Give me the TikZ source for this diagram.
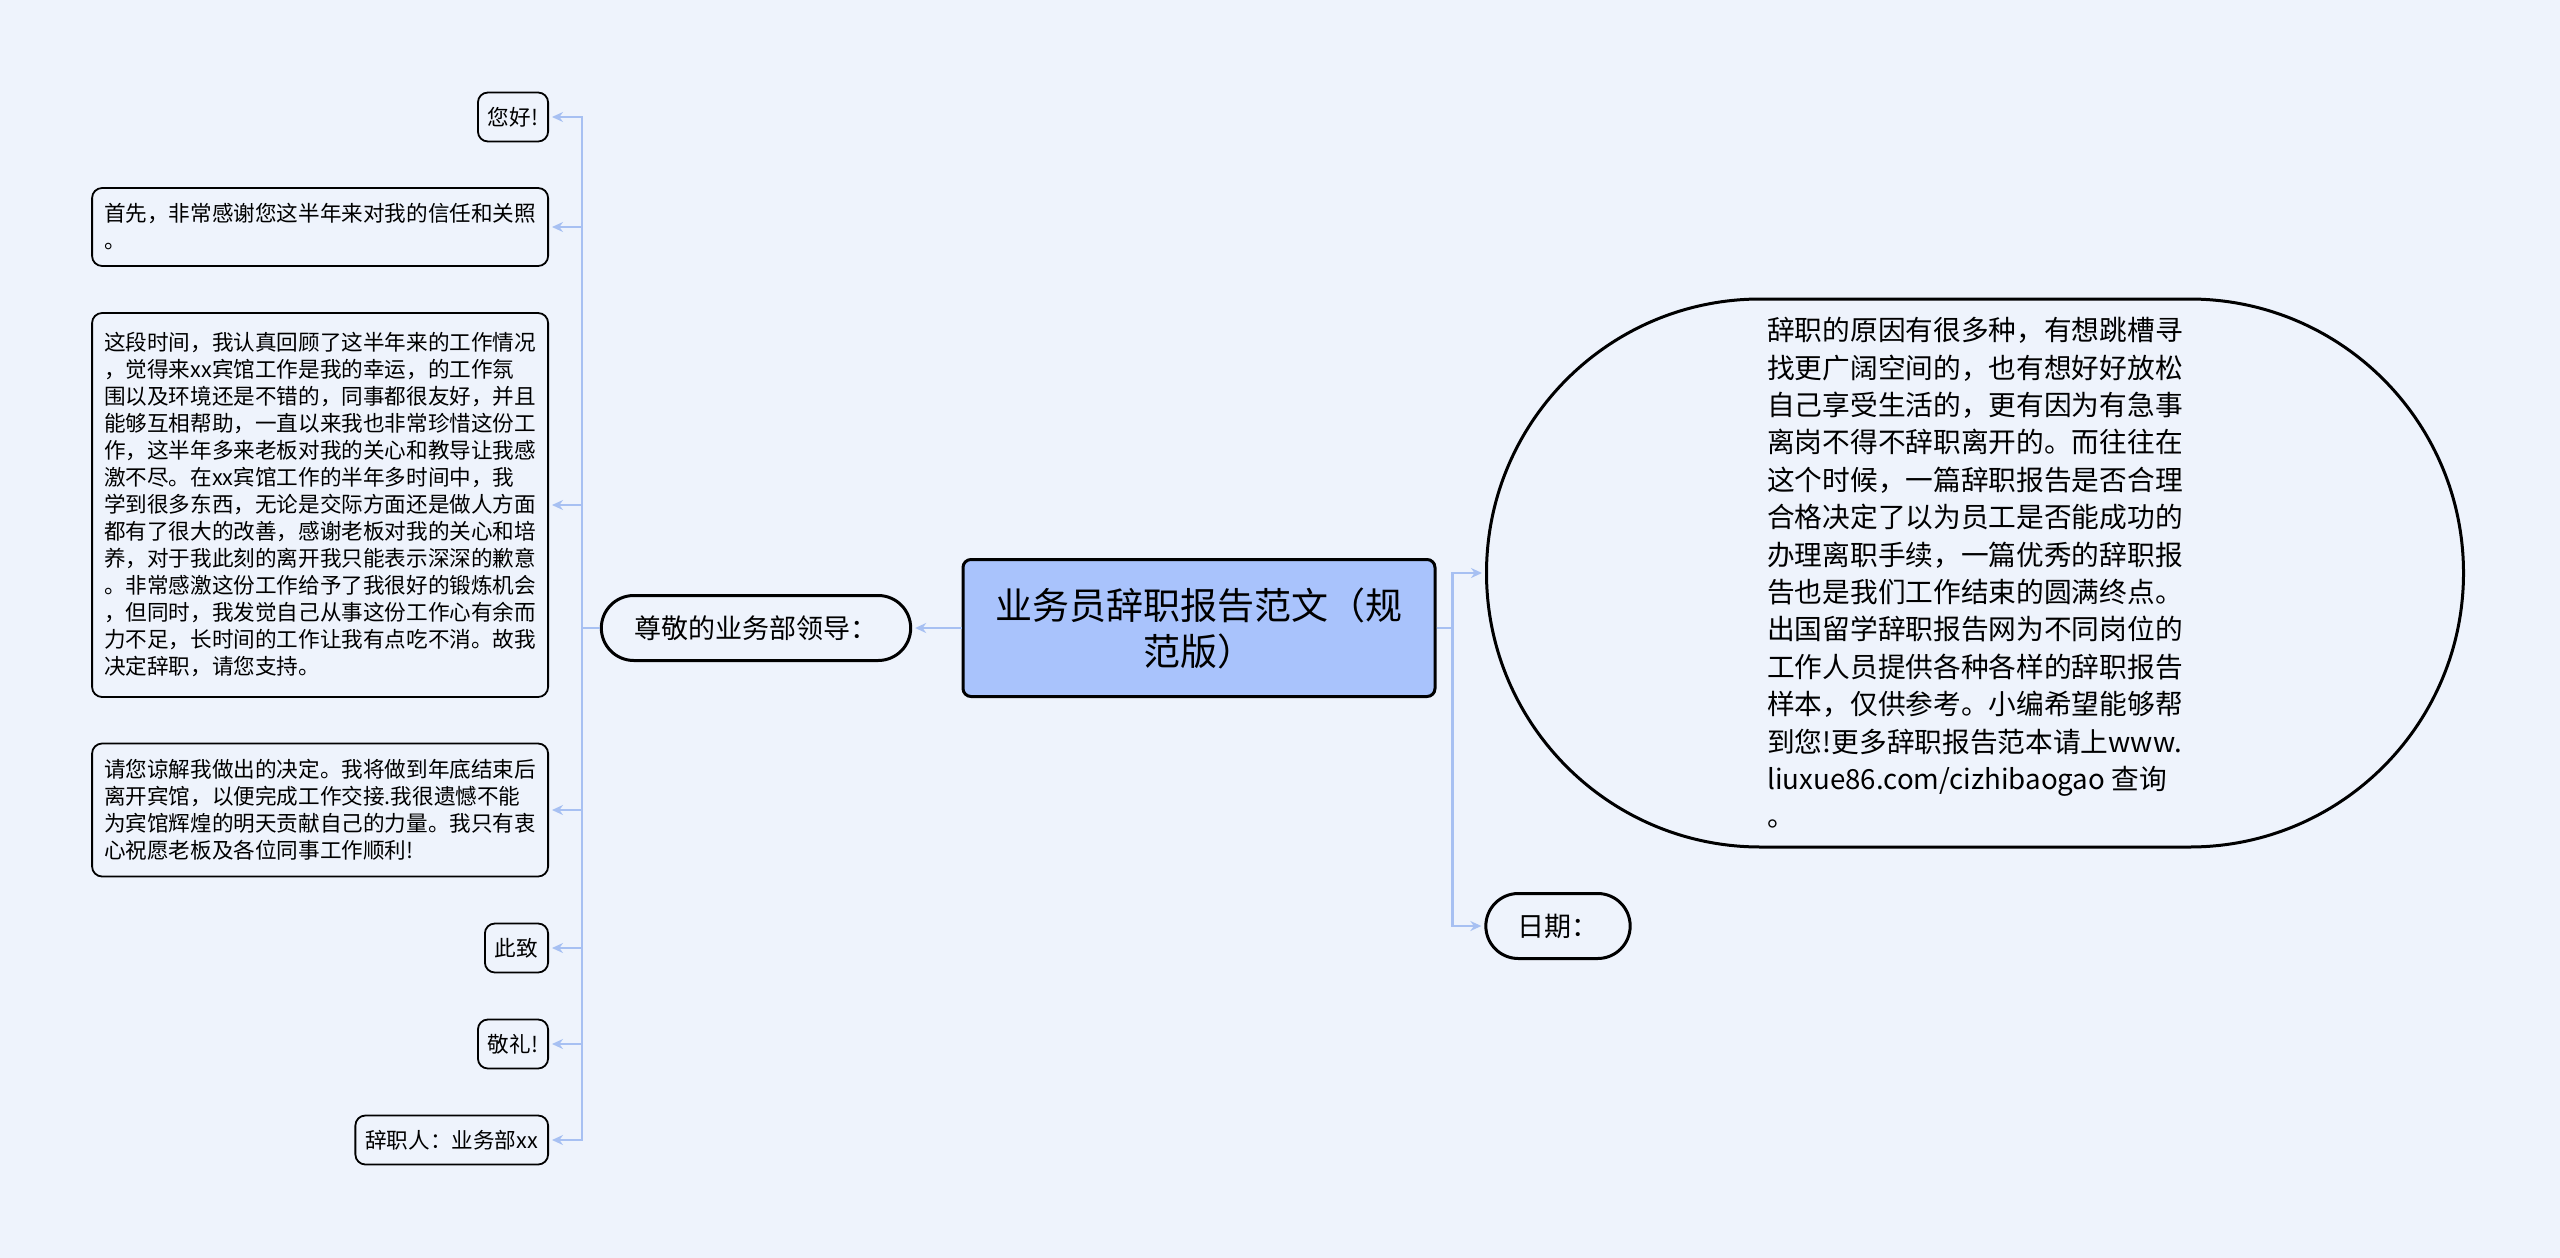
\documentclass[tikz,border=0pt]{standalone}
\usepackage{fontspec}
\setmainfont{Noto Sans CJK SC}
\usetikzlibrary{arrows.meta,shapes.misc}
\definecolor{bg}{HTML}{EEF3FC}
\definecolor{conn}{HTML}{A7C0F2}
\definecolor{mainfill}{HTML}{A9C3FC}
\begin{document}
\begin{tikzpicture}[x=1pt,y=-1pt,
  connector/.style={draw=conn, line width=2.6pt, -{Stealth[length=11pt,width=10pt]}, shorten >=3pt},
  plainconn/.style={draw=conn, line width=2.6pt},
  leaf/.style={draw=black, line width=1.8pt, rounded corners=10pt, fill=bg, anchor=east,
    font=\fontsize{21.6pt}{27pt}\selectfont, inner xsep=10pt, minimum height=49pt},
  leafwide/.style={leaf, text width=432pt, align=left, inner xsep=12pt},
  pill/.style={draw=black, line width=3pt, fill=bg, rounded rectangle,
    font=\fontsize{27pt}{34pt}\selectfont, minimum height=65pt},
  topic/.style={draw=black, line width=3pt, rounded corners=8pt, fill=mainfill,
    font=\fontsize{37pt}{46pt}\selectfont, align=center, minimum width=472pt, minimum height=137pt}
]
\fill[bg] (0,0) rectangle (2560,1258);
\useasboundingbox (0,0) rectangle (2560,1258);

% central topic
\node[topic] (main) at (1199,628) {业务员辞职报告范文（规\\范版）};

% left branch
\node[pill, minimum width=316pt] (zj) at (756,628) {尊敬的业务部领导：};

\node[leaf] (l1) at (549,117) {您好!};
\node[leafwide, minimum height=78pt] (l2) at (549,227) {首先，非常感谢您这半年来对我的信任和关照\\。};
\node[leafwide, minimum height=384pt] (l3) at (549,505) {这段时间，我认真回顾了这半年来的工作情况\\，觉得来xx宾馆工作是我的幸运，的工作氛\\围以及环境还是不错的，同事都很友好，并且\\能够互相帮助，一直以来我也非常珍惜这份工\\作，这半年多来老板对我的关心和教导让我感\\激不尽。在xx宾馆工作的半年多时间中，我\\学到很多东西，无论是交际方面还是做人方面\\都有了很大的改善，感谢老板对我的关心和培\\养，对于我此刻的离开我只能表示深深的歉意\\。非常感激这份工作给予了我很好的锻炼机会\\，但同时，我发觉自己从事这份工作心有余而\\力不足，长时间的工作让我有点吃不消。故我\\决定辞职，请您支持。};
\node[leafwide, minimum height=133pt] (l4) at (549,810) {请您谅解我做出的决定。我将做到年底结束后\\离开宾馆，以便完成工作交接.我很遗憾不能\\为宾馆辉煌的明天贡献自己的力量。我只有衷\\心祝愿老板及各位同事工作顺利!};
\node[leaf] (l5) at (549,948) {此致};
\node[leaf] (l6) at (549,1044) {敬礼!};
\node[leaf] (l7) at (549,1140) {辞职人：业务部xx};

% right branch
\node[pill, minimum width=985pt, minimum height=548pt, align=left, inner xsep=4pt,
  font=\fontsize{27.7pt}{37.4pt}\selectfont] (big) at (1975,573) {辞职的原因有很多种，有想跳槽寻\\找更广阔空间的，也有想好好放松\\自己享受生活的，更有因为有急事\\离岗不得不辞职离开的。而往往在\\这个时候，一篇辞职报告是否合理\\合格决定了以为员工是否能成功的\\办理离职手续，一篇优秀的辞职报\\告也是我们工作结束的圆满终点。\\出国留学辞职报告网为不同岗位的\\工作人员提供各种各样的辞职报告\\样本，仅供参考。小编希望能够帮\\到您!更多辞职报告范本请上www.\\liuxue86.com/cizhibaogao 查询\\。};
\node[pill, minimum width=151pt] (date) at (1558,926) {日期：};

% connectors
\draw[connector] (main.west) -- (zj.east);
\foreach \n in {l1,l2,l3,l4,l5,l6,l7}{
  \draw[connector] (zj.west) -- ++(-18,0) |- (\n.east);
}
\draw[connector] (main.east) -- ++(16,0) |- (big.west);
\draw[connector] (main.east) -- ++(16,0) |- (date.west);
\end{tikzpicture}
\end{document}
